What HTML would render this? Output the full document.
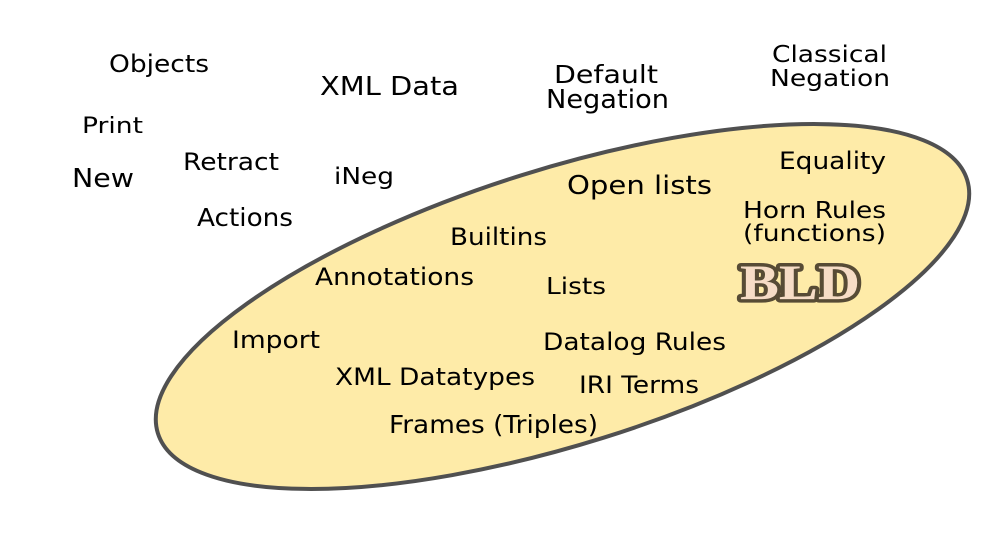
<!DOCTYPE html>
<html>
<head>
<meta charset="utf-8">
<style>
  html, body { margin: 0; padding: 0; background: #ffffff; }
  svg { display: block; }
  text { font-family: "DejaVu Sans", "Liberation Sans", sans-serif; fill: #000; }
</style>
</head>
<body>
<svg width="1000" height="548" viewBox="0 0 1000 548" xmlns="http://www.w3.org/2000/svg">
  <rect width="1000" height="548" fill="#ffffff"/>
  <ellipse cx="562.5" cy="306.5" rx="424" ry="137.5" transform="rotate(-17.4 562.5 306.5)" fill="#feeba8" stroke="#505050" stroke-width="4"/>

  <!-- outside labels -->
  <text x="109" y="72" font-size="24" textLength="100" lengthAdjust="spacingAndGlyphs">Objects</text>
  <text x="82" y="133" font-size="22.5" textLength="61" lengthAdjust="spacingAndGlyphs">Print</text>
  <text x="72" y="187" font-size="26" textLength="62" lengthAdjust="spacingAndGlyphs">New</text>
  <text x="183" y="170" font-size="24" textLength="96" lengthAdjust="spacingAndGlyphs">Retract</text>
  <text x="197" y="226" font-size="25" textLength="96" lengthAdjust="spacingAndGlyphs">Actions</text>
  <text x="320" y="95" font-size="26" textLength="139" lengthAdjust="spacingAndGlyphs">XML Data</text>
  <text x="334" y="184" font-size="23" textLength="60" lengthAdjust="spacingAndGlyphs">iNeg</text>
  <text x="554" y="83" font-size="25" textLength="104" lengthAdjust="spacingAndGlyphs">Default</text>
  <text x="546" y="108" font-size="25.5" textLength="123" lengthAdjust="spacingAndGlyphs">Negation</text>
  <text x="772" y="62" font-size="23.5" textLength="115" lengthAdjust="spacingAndGlyphs">Classical</text>
  <text x="770" y="86" font-size="23.5" textLength="120" lengthAdjust="spacingAndGlyphs">Negation</text>

  <!-- inside labels -->
  <text x="779" y="169" font-size="24" textLength="107" lengthAdjust="spacingAndGlyphs">Equality</text>
  <text x="567" y="194" font-size="26" textLength="145" lengthAdjust="spacingAndGlyphs">Open lists</text>
  <text x="743" y="218" font-size="23.5" textLength="143" lengthAdjust="spacingAndGlyphs">Horn Rules</text>
  <text x="743" y="241" font-size="23.5" textLength="143" lengthAdjust="spacingAndGlyphs">(functions)</text>
  <text x="450" y="245" font-size="24" textLength="97" lengthAdjust="spacingAndGlyphs">Builtins</text>
  <text x="546" y="294" font-size="23.5" textLength="60" lengthAdjust="spacingAndGlyphs">Lists</text>
  <text x="315" y="285" font-size="24" textLength="159" lengthAdjust="spacingAndGlyphs">Annotations</text>
  <text x="232" y="348" font-size="24" textLength="88" lengthAdjust="spacingAndGlyphs">Import</text>
  <text x="543" y="350" font-size="24" textLength="183" lengthAdjust="spacingAndGlyphs">Datalog Rules</text>
  <text x="335" y="385" font-size="24" textLength="200" lengthAdjust="spacingAndGlyphs">XML Datatypes</text>
  <text x="579" y="393" font-size="24" textLength="120" lengthAdjust="spacingAndGlyphs">IRI Terms</text>
  <text x="389" y="433" font-size="25" textLength="209" lengthAdjust="spacingAndGlyphs">Frames (Triples)</text>

  <!-- BLD logo -->
  <text x="740" y="299" font-size="50" font-weight="bold" textLength="120" lengthAdjust="spacingAndGlyphs"
        style="font-family: 'Liberation Serif', 'DejaVu Serif', serif; fill:#f6dcc6; stroke:#574b35; stroke-width:7; paint-order:stroke; stroke-linejoin:round;">BLD</text>
</svg>
</body>
</html>
